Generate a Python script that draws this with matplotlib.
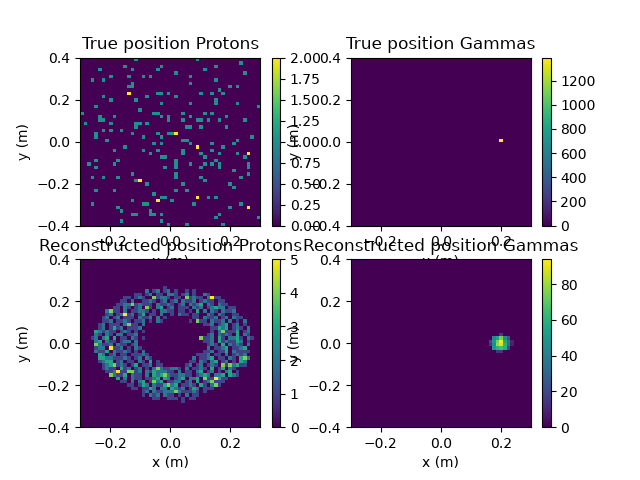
import numpy as np
import matplotlib
matplotlib.use('Agg')
import matplotlib.pyplot as plt

plt.rcParams['text.hinting'] = 'native'

n_bins = 50
x_range = [-0.3, 0.3]
y_range = [-0.4, 0.4]

# True protons: row from the top of the panel -> columns holding one count
proton_single = {
    0: [15, 32], 1: [44], 2: [12, 22, 37], 3: [5, 14, 21, 34], 4: [26, 45],
    5: [8, 13, 17, 19, 30], 6: [3, 6, 37], 7: [14, 30], 8: [13, 14, 41, 43], 9: [38],
    10: [21, 22, 24, 33, 36, 39], 11: [6, 18, 26], 12: [8, 15, 37], 13: [22, 30, 37, 43],
    14: [4, 49], 15: [16], 16: [0, 20, 21, 28, 34, 36], 17: [5, 9, 22, 24, 30, 40],
    18: [5, 6, 24, 28, 32, 33, 35, 38, 45], 19: [1, 8, 15, 16, 18], 20: [15, 29, 30, 33, 40],
    21: [6, 8, 11], 22: [4, 14, 21, 24, 25], 23: [4, 17, 22, 47], 24: [7, 28, 29, 43],
    25: [20, 22, 30, 36, 42], 26: [12, 39], 27: [9, 17, 21, 28, 36],
    28: [19, 28, 33, 38, 43], 29: [22, 23, 34, 45], 30: [4, 10, 26, 37],
    31: [2, 9, 26, 30, 34, 36, 38, 46], 32: [4, 23, 26, 33, 38, 46], 33: [42],
    34: [14, 26, 46], 35: [3, 6, 10, 26, 33, 44], 36: [15, 34], 37: [18, 28, 41],
    38: [42], 39: [4, 9, 26, 29], 40: [20], 41: [22, 23, 35, 37], 42: [14, 25],
    43: [3, 17, 18, 31, 44], 44: [10, 41], 45: [11, 19], 46: [14, 15, 19, 20, 22, 38],
    47: [37, 49], 48: [11, 22], 49: [24, 29, 39],
}
# the yellow cells, (row, column)
proton_double = [(10, 13), (22, 26), (26, 32), (28, 46), (36, 16), (41, 32), (42, 21), (44, 46)]

# True gammas: everything sits in one cell
gamma_true_cell = (24, 41)
gamma_true_count = 1390

# Reconstructed protons: row from the top -> (first column, counts)
reco_proton_rows = {
    8: (23, "1"),
    9: (18, "20120120100101"),
    10: (15, "110120110221012010021"),
    11: (12, "11012100" "4" "12210110" "4" "121102" "5" "11"),
    12: (11, "110200112101201202112012110110"),
    13: (10, "1122" "4" "121110211210120212302102110"),
    14: (9, "110210120" "4" "102301201110212012322011"),
    15: (7, "2" "4" "11020112210102211011010302021021120"),
    16: (7, "12012" "5" "1201301102001021101100210210011"),
    17: (6, "120120111021120201" "0000000" "11021120120211"),
    18: (6, "11201121011201021" "000000010" "4" "1102112020102"),
    19: (5, "12011102" "4" "11020" "000000000000000" "112012301201"),
    20: (5, "1201312011120" "000000000000000000" "11323012102"),
    21: (4, "32" "121101210101" "000000000000000000" "102" "4" "1113012"),
    22: (4, "2102102201120" "000000000000000000" "120212103021"),
    23: (3, "120230301102101" "000000000000000" "4" "11203102231021"),
    24: (4, "2302110122020" "00000000000000000" "11203121132010"),
    25: (4, "4" "21120211012" "0000000000000000000" "1210302121020"),
    26: (4, "1220" "5" "11201021" "000000000000000000" "2011230112300"),
    27: (4, "21130211210102" "0000000000000000" "11201130211110"),
    28: (5, "320120110111210" "000000000000" "111201102012120"),
    29: (5, "3322111210120210" "0000000000" "20112301102103" "4" "2"),
    30: (5, "12330120110210301" "00000000" "1102102301201032"),
    31: (6, "123" "4" "1210130112011" "000000" "1201201210" "4" "1" "4" "2311"),
    32: (6, "121103120120102" "4" "21122102011210301302100"),
    33: (7, "112" "5" "11" "44" "12021322211020110230120102301"),
    34: (8, "4" "21130211020323" "4" "21122110123202230321"),
    35: (10, "302021101123032012302230" "4" "11" "5" "3110"),
    36: (11, "110202301" "4" "230112201203012" "4" "111"),
    37: (13, "11013202113" "4" "230112103102" "4" "1"),
    38: (14, "110113202203212013201110"),
    39: (17, "120211222" "4" "21112101"),
    40: (17, "1021202110102011"),
    41: (20, "110011101011"),
    42: (28, "1"),
}

# Reconstructed gammas: row from the top -> (first column, counts)
reco_gamma_rows = {
    22: (41, [15]),
    23: (39, [45, 55, 75, 45, 25]),
    24: (38, [20, 50, 75, 94, 55, 35, 10]),
    25: (38, [15, 45, 80, 90, 60, 35, 8]),
    26: (39, [50, 60, 65, 60, 20]),
    27: (40, [15, 15]),
}

# Colorbar ticks per panel, None keeps what matplotlib picks
true_proton_ticks = [0, 0.25, 0.5, 0.75, 1, 1.25, 1.5, 1.75, 2]
true_gamma_ticks = [0, 200, 400, 600, 800, 1000, 1200]


def fill_rows(rows):
    counts = np.zeros((n_bins, n_bins))
    for row, (start, values) in rows.items():
        values = [int(v) for v in values][:n_bins - start]
        counts[row, start:start + len(values)] = values
    return counts


true_protons = np.zeros((n_bins, n_bins))
for row, cols in proton_single.items():
    true_protons[row, cols] = 1
for row, col in proton_double:
    true_protons[row, col] = 2

true_gammas = np.zeros((n_bins, n_bins))
true_gammas[gamma_true_cell] = gamma_true_count

reco_protons = fill_rows(reco_proton_rows)
reco_gammas = fill_rows(reco_gamma_rows)

panels = [
    ('True position Protons', true_protons, true_proton_ticks),
    ('True position Gammas', true_gammas, true_gamma_ticks),
    ('Reconstructed position Protons', reco_protons, None),
    ('Reconstructed position Gammas', reco_gammas, None),
]

plt.figure(figsize=(6.4, 4.8), dpi=100)
for i, (title, counts, ticks) in enumerate(panels):
    plt.subplot(2, 2, i + 1)
    # rows were read top down, so row 0 goes to the top of the axes
    plt.imshow(counts, extent=x_range + y_range, aspect='auto', interpolation='nearest')
    plt.colorbar(ticks=ticks)
    plt.xlabel('x (m)')
    plt.ylabel('y (m)')
    plt.title(title, fontsize=12.15)

plt.savefig('out.png', dpi=100)
